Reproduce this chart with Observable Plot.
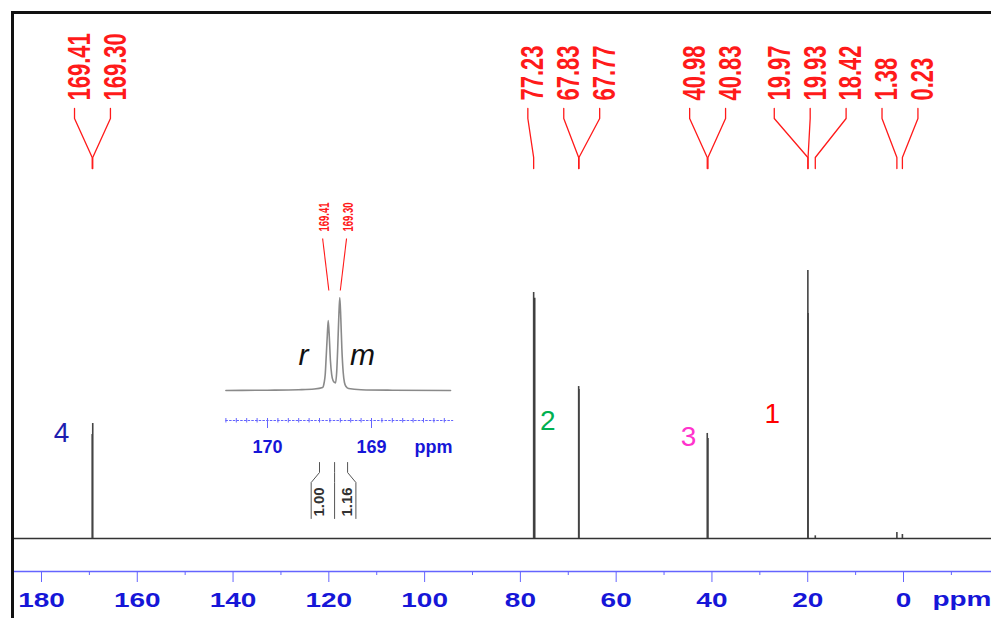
<!DOCTYPE html>
<html>
<head>
<meta charset="utf-8">
<script src="https://cdn.jsdelivr.net/npm/d3@7"></script>
<script src="https://cdn.jsdelivr.net/npm/@observablehq/plot@0.6"></script>
<style>
  body { margin: 0; background: #fff; }
  #chart { position: relative; width: 991px; height: 618px; overflow: hidden; background: #fff; }
  #frame { position: absolute; left: 11px; top: 11px; width: 1000px; height: 700px;
           border-left: 3px solid #111; border-top: 3px solid #111; pointer-events: none; }
</style>
</head>
<body>
<div id="chart"><div id="frame"></div></div>
<script>
// ---------------- main 13C spectrum data ----------------
const peakShifts  = [169.41, 169.30, 77.23, 67.83, 67.77, 40.98, 40.83, 19.97, 19.93, 18.42, 1.38, 0.23];
const peakHeights = [38.8,   42.9,   91.8,  56.7,  55.6,  39.2,  37.3,  100,   84,    1.0,   2.2,  1.5];
const peakGroups  = [0, 0, 1, 1, 1, 2, 2, 3, 3, 3, 3, 3];
const solventShifts  = [77.00];
const solventHeights = [89.6];
const spectrumRange = [186, -20];

const axisMajorTicks = [180, 160, 140, 120, 100, 80, 60, 40, 20, 0];
const axisMinorTicks = [170, 150, 130, 110, 90, 70, 50, 30, 10, -10];

const carbonLabels  = ["4", "2", "3", "1"];
const carbonShifts  = [175.8, 74.3, 44.9, 27.4];
const carbonLevels  = [39.2, 44.0, 37.7, 46.3];
const carbonColors  = ["#1e1eb0", "#00b050", "#ff33cc", "#ff0000"];

// ---------------- inset (carbonyl region) ----------------
const insetShifts = [170.40, 170.00, 169.70, 169.55, 169.47, 169.455, 169.445, 169.435, 169.425, 169.416,
                     169.405, 169.395, 169.383, 169.37, 169.355, 169.346, 169.335, 169.325, 169.315, 169.305,
                     169.295, 169.285, 169.272, 169.26, 169.245, 169.22, 169.10, 168.80, 168.24];
const insetHeights = [0, 0.3, 0.8, 1.5, 3, 8, 16, 35, 55, 70,
                      52, 30, 16, 10, 8, 7.5, 18, 42, 72, 93,
                      72, 42, 18, 8, 4, 2, 0.8, 0.3, 0];
const insetPeaks = [169.41, 169.30];
const insetAxisRange = [170.40, 168.21];
const insetMajorTicks = [170, 169];
const insetMinorTicks = [170.4, 170.3, 170.2, 170.1, 170.0, 169.9, 169.8, 169.7, 169.6, 169.5, 169.4,
                         169.3, 169.2, 169.1, 169.0, 168.9, 168.8, 168.7, 168.6, 168.5, 168.4, 168.3];
const integralFrom   = [169.50, 169.355];
const integralTo     = [169.355, 169.23];
const integralValues = ["1.00", "1.16"];
const tacticityLabels = ["r", "m"];
const tacticityShifts = [169.654, 169.087];

// ---------------- helpers ----------------
const FONT = "'Liberation Sans', Arial, sans-serif";
const RED = "#ff1a1a";
const AXIS_LINE = "#6464ff";
const AXIS_TEXT = "#1616d8";
const chart = document.getElementById("chart");
const frame = document.getElementById("frame");

function groupFill(el) {
  let g = el.parentNode;
  while (g && g.getAttribute) {
    const f = g.getAttribute("fill");
    if (f) return f;
    g = g.parentNode;
  }
  return el.getAttribute("fill");
}
function stretch(svg, pick) {
  svg.querySelectorAll("text").forEach(el => {
    const s = pick(el);
    if (!s) return;
    const x = +el.getAttribute("x") || 0, y = +el.getAttribute("y") || 0;
    const t = el.getAttribute("transform") || "";
    el.setAttribute("transform", `${t} translate(${x},${y}) scale(${s[0]},${s[1]}) translate(${-x},${-y})`);
  });
}
function layer(opts, left = 0, top = 0) {
  const svg = Plot.plot({
    ...opts,
    style: {position: "absolute", left: left + "px", top: top + "px", background: "transparent",
            overflow: "visible", fontFamily: FONT}
  });
  chart.insertBefore(svg, frame);
  return svg;
}

// ---------------- main spectrum layer ----------------
const peaks = peakShifts.map((s, i) => ({ppm: s, h: peakHeights[i]}));
const solvent = solventShifts.map((s, i) => ({ppm: s, h: solventHeights[i]}));
const mainX = {domain: [180, 0], range: [41, 903], axis: null};

layer({
  width: 991, height: 618, margin: 0,
  x: mainX,
  y: {domain: [0, 100], range: [538, 270], axis: null},
  marks: [
    Plot.ruleY([0], {x1: spectrumRange[0], x2: spectrumRange[1], stroke: "#333", strokeWidth: 1.4}),
    Plot.ruleX(solvent, {x: "ppm", y1: 0, y2: "h", stroke: "#3a3a3a", strokeWidth: 1.5}),
    Plot.ruleX(peaks, {x: "ppm", y1: 0, y2: "h", stroke: "#444", strokeWidth: 1.6}),
    ...carbonLabels.map((t, i) => Plot.text([t], {
      x: carbonShifts[i], y: carbonLevels[i], text: d => d,
      fontSize: 28, fill: carbonColors[i]
    }))
  ]
});

// ---------------- main annotation layer (axis + peak labels) ----------------
const labelSpacing = 7.5; // ppm between neighbouring peak labels
const labels = [];
for (const [, items] of d3.group(peakShifts.map((s, i) => ({s, i, g: peakGroups[i]})), d => d.g)) {
  const c = d3.mean(items, d => d.s), n = items.length;
  items.sort((a, b) => b.s - a.s).forEach((d, k) =>
    labels.push({id: d.i, text: d.s.toFixed(2), peak: d.s, lx: c + ((n - 1) / 2 - k) * labelSpacing}));
}
const leaderPts = labels.flatMap(d => [
  {id: d.id, x: d.lx, y: 108}, {id: d.id, x: d.lx, y: 118},
  {id: d.id, x: d.peak, y: 157}, {id: d.id, x: d.peak, y: 168}
]);

const ann = layer({
  width: 991, height: 618, marginTop: 0, marginLeft: 0, marginRight: 0, marginBottom: 47,
  x: mainX,
  y: {domain: [0, 618], range: [0, 618], axis: null},
  marks: [
    Plot.ruleY([571], {x1: spectrumRange[0], x2: spectrumRange[1], stroke: AXIS_LINE, strokeWidth: 1.5}),
    Plot.axisX({ticks: axisMinorTicks, tickSize: 4, tickFormat: () => "", stroke: AXIS_LINE, label: null}),
    Plot.axisX({ticks: axisMajorTicks, tickSize: 11, tickPadding: 10, tickFormat: d => String(d),
                stroke: AXIS_LINE, fill: AXIS_TEXT, fontSize: 20, fontWeight: "bold", label: null}),
    Plot.text(["ppm"], {frameAnchor: "right", y: 599, text: d => d, textAnchor: "end",
                        fontSize: 20, fontWeight: "bold", fill: AXIS_TEXT}),
    Plot.line(leaderPts, {x: "x", y: "y", z: "id", stroke: RED, strokeWidth: 1.3}),
    Plot.text(labels, {x: "lx", y: 100, text: "text", rotate: -90, textAnchor: "start", dx: 5.5,
                       fontSize: 22, fontWeight: "bold", fill: RED})
  ]
});
stretch(ann, el => groupFill(el) === RED ? [1, 1.4] : [1.4, 1]);

// ---------------- inset spectrum ----------------
const IL = 200, IT = 190;
const insetX = {domain: [170, 169], range: [67, 171], axis: null};
const insetData = insetShifts.map((s, i) => ({ppm: s, h: insetHeights[i]}));

layer({
  width: 290, height: 340, margin: 0,
  x: insetX,
  y: {domain: [0, 93], range: [200, 107], axis: null},
  marks: [
    Plot.line(insetData, {x: "ppm", y: "h", stroke: "#8a8a8a", strokeWidth: 1.6, curve: "monotone-x"})
  ]
}, IL, IT);

const insetCenter = d3.mean(insetPeaks);
const insetLabelSpacing = 0.23;
const insetLabels = insetPeaks.map((p, k) => ({
  peak: p, text: p.toFixed(2),
  lx: insetCenter + ((insetPeaks.length - 1) / 2 - k) * insetLabelSpacing
}));
const edges = Array.from(new Set([...integralFrom, ...integralTo])).sort((a, b) => b - a);
const flare = 0.08;
const bracketPts = edges.flatMap((e, i) => {
  const f = i === 0 ? flare : i === edges.length - 1 ? -flare : 0;
  return [{id: i, x: e, y: 272}, {id: i, x: e, y: 282}, {id: i, x: e + f, y: 292}, {id: i, x: e + f, y: 328}];
});
const integrals = integralValues.map((v, i) => ({v, x: i === 0 ? integralFrom[i] : integralTo[i]}));
const tacticity = tacticityLabels.map((t, i) => ({t, x: tacticityShifts[i]}));

const insAnn = layer({
  width: 290, height: 340, marginTop: 0, marginLeft: 0, marginRight: 38, marginBottom: 110,
  x: insetX,
  y: {domain: [0, 340], range: [0, 340], axis: null},
  marks: [
    Plot.ruleY([230], {x1: insetAxisRange[0], x2: insetAxisRange[1], stroke: AXIS_LINE,
                       strokeWidth: 1.2, strokeDasharray: "2.5,1.2"}),
    Plot.ruleX(insetMinorTicks, {y1: 228, y2: 232.5, stroke: AXIS_LINE, strokeWidth: 1}),
    Plot.axisX({ticks: insetMajorTicks, tickSize: 8, tickPadding: 12, tickFormat: d => String(d),
                stroke: AXIS_LINE, fill: AXIS_TEXT, fontSize: 18, fontWeight: "bold", label: null}),
    Plot.text(["ppm"], {frameAnchor: "right", y: 257, text: d => d, textAnchor: "end",
                        fontSize: 18, fontWeight: "bold", fill: AXIS_TEXT}),
    Plot.link(insetLabels, {x1: "lx", y1: 48, x2: "peak", y2: 100, stroke: RED, strokeWidth: 1.1}),
    Plot.text(insetLabels, {x: "lx", y: 41, text: "text", rotate: -90, textAnchor: "start", dx: 2,
                            fontSize: 9.5, fontWeight: "bold", fill: RED}),
    Plot.line(bracketPts, {x: "x", y: "y", z: "id", stroke: "#555", strokeWidth: 1}),
    Plot.text(integrals, {x: "x", y: 326, text: "v", rotate: -90, textAnchor: "start",
                          fontSize: 15, fontWeight: "bold", fill: "#333"}),
    Plot.text(tacticity, {x: "x", y: 165, text: "t", fontSize: 30, fontStyle: "italic", fill: "#111"})
  ]
}, IL, IT);
stretch(insAnn, el => groupFill(el) === RED ? [1, 1.6] : null);
</script>
</body>
</html>
